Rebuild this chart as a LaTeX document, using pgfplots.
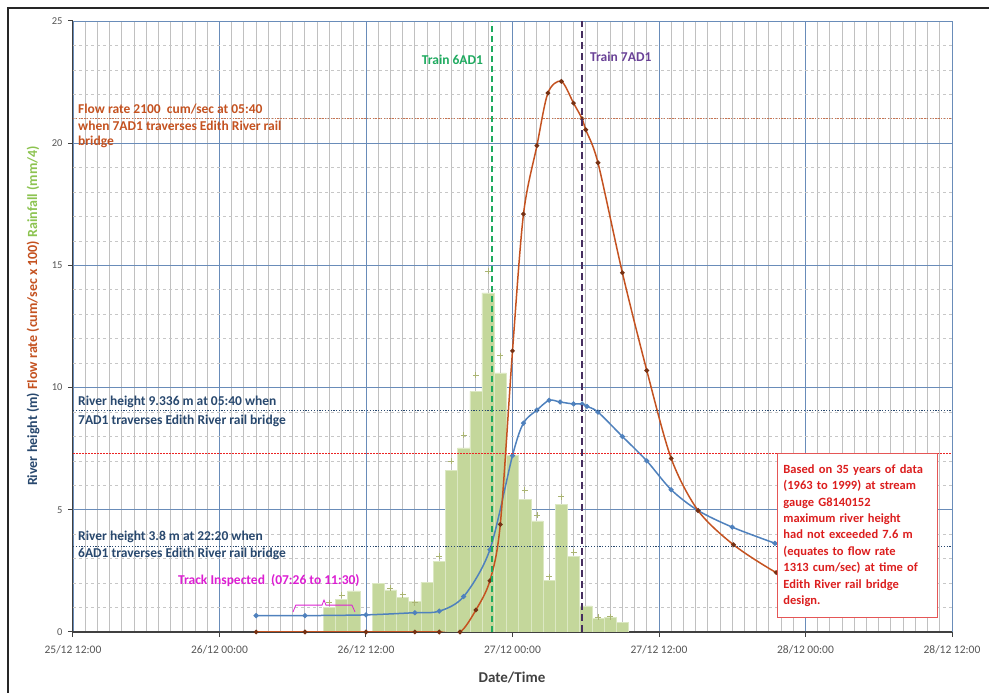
\documentclass[border=0pt]{standalone}
\usepackage{fontspec}
\setmainfont{Carlito}
\usepackage{pgfplots}
\pgfplotsset{compat=1.18}

\definecolor{rivblue}{RGB}{79,129,189}
\definecolor{rivtext}{RGB}{40,72,110}
\definecolor{flow}{RGB}{196,82,32}
\definecolor{flowdot}{RGB}{200,115,80}
\definecolor{rainfill}{RGB}{196,215,155}
\definecolor{rainedge}{RGB}{220,232,195}
\definecolor{rainplus}{RGB}{170,180,115}
\definecolor{raintext}{RGB}{140,195,80}
\definecolor{train6}{RGB}{30,170,95}
\definecolor{train7}{RGB}{105,65,150}
\definecolor{train7line}{RGB}{70,45,95}
\definecolor{limred}{RGB}{235,35,35}
\definecolor{majgrid}{RGB}{105,140,185}
\definecolor{mingrid}{RGB}{192,192,192}
\definecolor{magent}{RGB}{220,30,210}
\definecolor{boxred}{RGB}{220,30,30}
\definecolor{ticktext}{RGB}{85,85,85}

\newcommand\anf{\fontsize{13.5}{16.4}\selectfont\bfseries}

\begin{document}
\begin{tikzpicture}[x=1pt,y=1pt]
\useasboundingbox (0,0) rectangle (989,693);
\draw[line width=1.6pt, black!85] (8,0) -- (8,685) -- (989,685);

\begin{axis}[
  at={(73pt,61pt)}, anchor=south west,
  scale only axis, width=879pt, height=611pt,
  xmin=0, xmax=72, ymin=0, ymax=25,
  /pgf/number format/assume math mode=true,
  xtick={0,12,...,72},
  xticklabels={25/12 12:00,26/12 00:00,26/12 12:00,27/12 00:00,27/12 12:00,28/12 00:00,28/12 12:00},
  ytick={0,5,...,25},
  minor x tick num=11, minor y tick num=4,
  grid=both,
  major grid style={majgrid, line width=0.9pt},
  minor x grid style={mingrid, line width=1pt, solid},
  minor y grid style={black!22, line width=0.7pt, dash pattern=on 3pt off 3pt},
  axis x line*=bottom, axis y line*=left,
  x axis line style={-, line width=2pt, black!75},
  y axis line style={-, line width=1pt, black!75},
  tick align=outside, major tick length=5pt, minor tick length=0pt,
  tick style={black!75, line width=1pt},
  xticklabel style={font=\fontsize{11.5}{13}\selectfont, text=ticktext, yshift=-5pt},
  yticklabel style={font=\fontsize{10.5}{12}\selectfont, text=ticktext, xshift=-2pt},
  clip mode=individual,
]

% rainfall, hourly bars (mm/4)
\addplot[ybar, bar width=12.21pt, bar shift=0pt, fill=rainfill, draw=rainedge, line width=0.5pt] coordinates {
  (21,1.02) (22,1.32) (23,1.68) (25,2.0) (26,1.72) (27,1.43) (28,1.24)
  (29,2.03) (30,2.88) (31,6.6) (32,7.53) (33,9.85) (34,13.88) (35,10.6)
  (36,7.25) (37,5.44) (38,4.55) (39,2.1) (40,5.23) (41,3.09) (42,1.07)
  (43,0.56) (44,0.6) (45,0.38)
};

% second rain gauge
\addplot[only marks, mark=+, mark size=3pt, rainplus, line width=0.8pt] coordinates {
  (21,1.2) (22,1.5) (26,1.8) (27,1.52) (28,1.2) (30,3.1) (31,7.0) (32,8.05)
  (33,10.5) (34,14.77) (35,11.3) (37,5.8) (38,4.78) (39,2.27) (40,5.53)
  (41,3.27) (43,0.6) (44,0.62)
};

% river height (m)
\addplot[rivblue, line width=1.5pt, smooth, tension=0.5, mark=*, mark size=1.7pt] coordinates {
  (15,0.67) (19,0.67) (24,0.7) (28,0.79) (30,0.85) (32,1.45) (34.15,3.37)
  (36,7.22) (36.9,8.55) (38,9.08) (39,9.48) (39.9,9.41) (41,9.33) (41.7,9.33)
  (42.1,9.23) (43,9.0) (45,8.0) (47,7.0) (49,5.82) (51.2,4.97) (54,4.29)
  (57.5,3.63) (60,3.2)
};

% flow rate (cum/sec x 100)
\addplot[flow, line width=1.5pt, smooth, tension=0.5, mark=*, mark size=1.5pt,
  mark options={fill=flow!60!black, draw=flow!60!black}] coordinates {
  (15,0) (19,0) (24,0) (28,0) (30,0) (31.7,0) (33,0.9) (34.15,2.1) (35,4.4)
  (36,11.5) (36.9,17.1) (38,19.9) (38.9,22.05) (40,22.53) (41,21.64)
  (41.7,21.0) (42,20.55) (43,19.2) (45,14.7) (47,10.7) (49,7.1) (51.2,4.97)
  (54.1,3.57) (57.6,2.43) (60,1.9)
};

% reference lines
\draw[flowdot, line width=1.4pt, dash pattern=on 1.4pt off 1.4pt] (axis cs:0,21) -- (axis cs:72,21);
\draw[rivtext, line width=1.2pt, dash pattern=on 1.2pt off 1.6pt] (axis cs:0,9.05) -- (axis cs:72,9.05);
\draw[rivtext, line width=1.2pt, dash pattern=on 1.2pt off 1.6pt] (axis cs:0,3.5) -- (axis cs:72,3.5);
\draw[limred, line width=1.8pt, dash pattern=on 1.6pt off 1.4pt] (axis cs:0,7.3) -- (axis cs:72,7.3);
\draw[train6, line width=1.8pt, dash pattern=on 6pt off 4pt] (axis cs:34.33,0) -- (axis cs:34.33,25);
\draw[train7line, line width=1.8pt, dash pattern=on 7pt off 4pt] (axis cs:41.67,0) -- (axis cs:41.67,25);

% annotations
\node[anchor=east, text=train6, font=\anf, inner sep=0pt] at (axis cs:33.6,23.4) {Train 6AD1};
\node[anchor=west, text=train7, font=\anf, inner sep=0pt] at (axis cs:42.35,23.53) {Train 7AD1};

\node[anchor=west, text=flow, font=\anf, inner sep=0pt] at (axis cs:0.41,21.4) {Flow rate 2100\ \ cum/sec at 05:40};
\node[anchor=west, text=flow, font=\anf, inner sep=0pt] at (axis cs:0.41,20.72) {when 7AD1 traverses Edith River rail};
\node[anchor=west, text=flow, font=\anf, inner sep=0pt] at (axis cs:0.41,20.05) {bridge};

\node[anchor=west, text=rivtext, font=\anf, inner sep=0pt] at (axis cs:0.41,9.41) {River height 9.336 m at 05:40 when};
\node[anchor=west, text=rivtext, font=\anf, inner sep=0pt] at (axis cs:0.41,8.63) {7AD1 traverses Edith River rail bridge};
\node[anchor=west, text=rivtext, font=\anf, inner sep=0pt] at (axis cs:0.41,3.89) {River height 3.8 m at 22:20 when};
\node[anchor=west, text=rivtext, font=\anf, inner sep=0pt] at (axis cs:0.41,3.19) {6AD1 traverses Edith River rail bridge};

\node[anchor=west, text=magent, font=\anf, inner sep=0pt] at (axis cs:8.6,2.09) {Track Inspected\ \ (07:26 to 11:30)};
\draw[magent, line width=0.8pt] (axis cs:18.02,0.82) -- (axis cs:18.25,1.1) -- (axis cs:20.4,1.1) -- (axis cs:20.56,1.31)
  -- (axis cs:20.72,1.1) -- (axis cs:22.85,1.1) -- (axis cs:23.1,0.82);

\node[draw=boxred!75, fill=white, line width=0.8pt, anchor=north west, text width=148pt,
  inner xsep=6pt, inner ysep=7pt, align=left, text=boxred, font=\fontsize{12.5}{16.4}\selectfont\bfseries,
  minimum height=164pt]
  at (axis cs:57.67,7.32) {Based on 35 years of data\\(1963 to 1999) at stream\\gauge G8140152\\maximum river height\\had not exceeded 7.6 m\\(equates to flow rate\\1313 cum/sec) at time of\\Edith River rail bridge\\design.};
\end{axis}

\node[rotate=90, font=\fontsize{14}{16}\selectfont\bfseries] at (33,377)
  {\textcolor{rivtext}{River height (m)} \textcolor{flow}{Flow rate (cum/sec x 100)} \textcolor{raintext}{Rainfall (mm/4)}};
\node[font=\fontsize{15}{17}\selectfont\bfseries, text=black!75] at (512,15) {Date/Time};
\end{tikzpicture}
\end{document}
